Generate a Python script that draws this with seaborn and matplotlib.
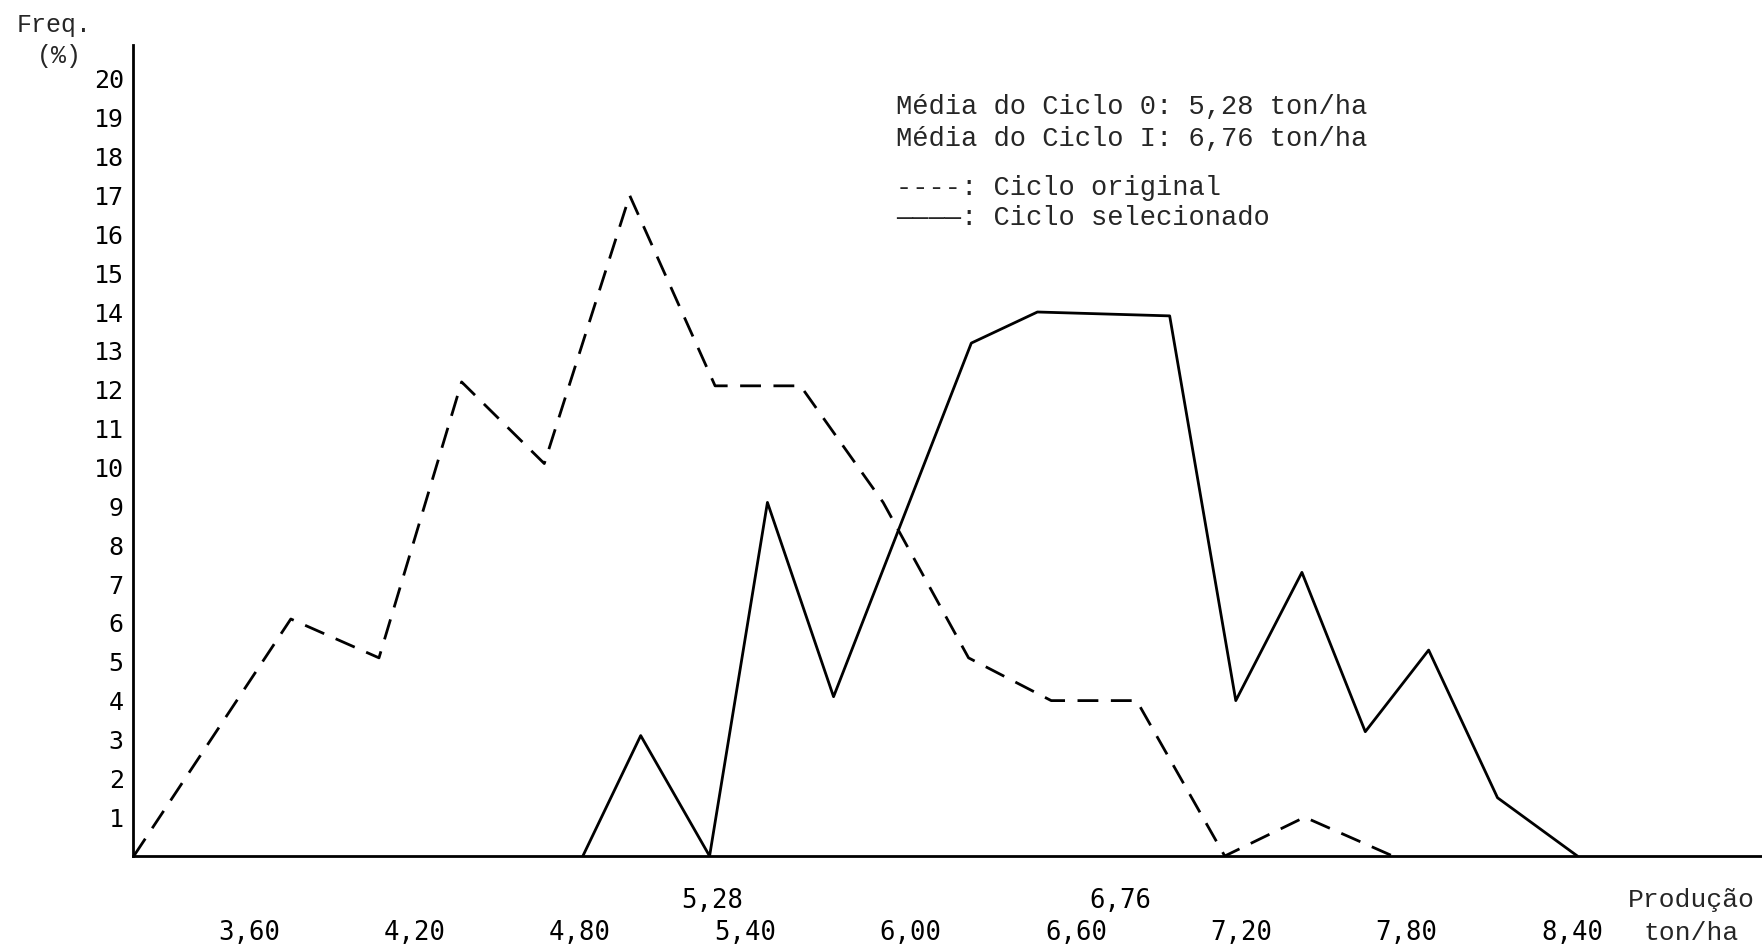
import matplotlib
matplotlib.use("Agg")
import matplotlib.pyplot as plt
import seaborn as sns
import pandas as pd

# ---- data ----
prod_original = [3.18, 3.75, 4.07, 4.37, 4.67, 4.98, 5.29, 5.60, 5.90, 6.21, 6.51, 6.82, 7.14, 7.43, 7.75]
freq_original = [0, 6.1, 5.1, 12.2, 10.1, 17.0, 12.1, 12.1, 9.1, 5.1, 4.0, 4.0, 0, 1.0, 0]

prod_selecionado = [4.81, 5.02, 5.27, 5.48, 5.72, 6.22, 6.46, 6.94, 7.18, 7.42, 7.65, 7.88, 8.13, 8.42]
freq_selecionado = [0, 3.1, 0, 9.1, 4.1, 13.2, 14.0, 13.9, 4.0, 7.3, 3.2, 5.3, 1.5, 0]

x_ticks_main = [3.60, 4.20, 4.80, 5.40, 6.00, 6.60, 7.20, 7.80, 8.40]
x_labels_main = ["3,60", "4,20", "4,80", "5,40", "6,00", "6,60", "7,20", "7,80", "8,40"]
x_ticks_media = [5.28, 6.76]
x_labels_media = ["5,28", "6,76"]
y_ticks = list(range(1, 21))

legend_lines = ["Média do Ciclo 0: 5,28 ton/ha",
                "Média do Ciclo I: 6,76 ton/ha",
                "----: Ciclo original",
                "————: Ciclo selecionado"]

df_o = pd.DataFrame({"prod": prod_original, "freq": freq_original})
df_s = pd.DataFrame({"prod": prod_selecionado, "freq": freq_selecionado})

sns.set_style("white")
mono = ["Liberation Mono", "DejaVu Sans Mono"]
tickfont = "DejaVu Sans Mono"

fig = plt.figure(figsize=(17.62, 9.48), dpi=100)
ax = fig.add_axes([0.0753, 0.097, 0.9247, 0.8555])

sns.lineplot(data=df_o, x="prod", y="freq", ax=ax, color="black", lw=2.0,
             linestyle=(0, (7.5, 4.5)), sort=False, errorbar=None)
sns.lineplot(data=df_s, x="prod", y="freq", ax=ax, color="black", lw=2.0,
             sort=False, errorbar=None)

ax.set_xlim(3.176, 9.09)
ax.set_ylim(0, 20.87)

for s in ["top", "right"]:
    ax.spines[s].set_visible(False)
for s in ["left", "bottom"]:
    ax.spines[s].set_color("black")
    ax.spines[s].set_linewidth(2.0)

ax.set_yticks(y_ticks)
ax.set_yticklabels([str(v) for v in y_ticks], fontfamily=tickfont, fontsize=18)
ax.tick_params(axis="y", direction="inout", length=7, width=1.2, pad=3, colors="black")

ax.set_xticks(x_ticks_main)
ax.set_xticklabels(x_labels_main, fontfamily=tickfont, fontsize=18.5)
ax.set_xticks(x_ticks_media, minor=True)
ax.set_xticklabels(x_labels_media, minor=True, fontfamily=tickfont, fontsize=18.5)
ax.tick_params(axis="x", which="major", direction="inout", length=8, width=1.2, pad=42, colors="black")
ax.tick_params(axis="x", which="minor", direction="inout", length=8, width=1.2, pad=19, colors="black")

ax.set_xlabel("")
ax.set_ylabel("")

# axis titles
fig.text(0.0095, 0.974, "Freq.", family=mono, fontsize=18, va="center", ha="left")
fig.text(0.021, 0.941, "(%)", family=mono, fontsize=18, va="center", ha="left")
fig.text(0.960, 0.051, "Produção", family=mono, fontsize=19, va="center", ha="center")
fig.text(0.960, 0.016, "ton/ha", family=mono, fontsize=19, va="center", ha="center")

# legend / annotation block
ys = [0.887, 0.853, 0.802, 0.770]
for t, y in zip(legend_lines, ys):
    fig.text(0.5085, y, t, family=mono, fontsize=19.5, va="center", ha="left")

fig.savefig("out.png", dpi=100, facecolor="white")
